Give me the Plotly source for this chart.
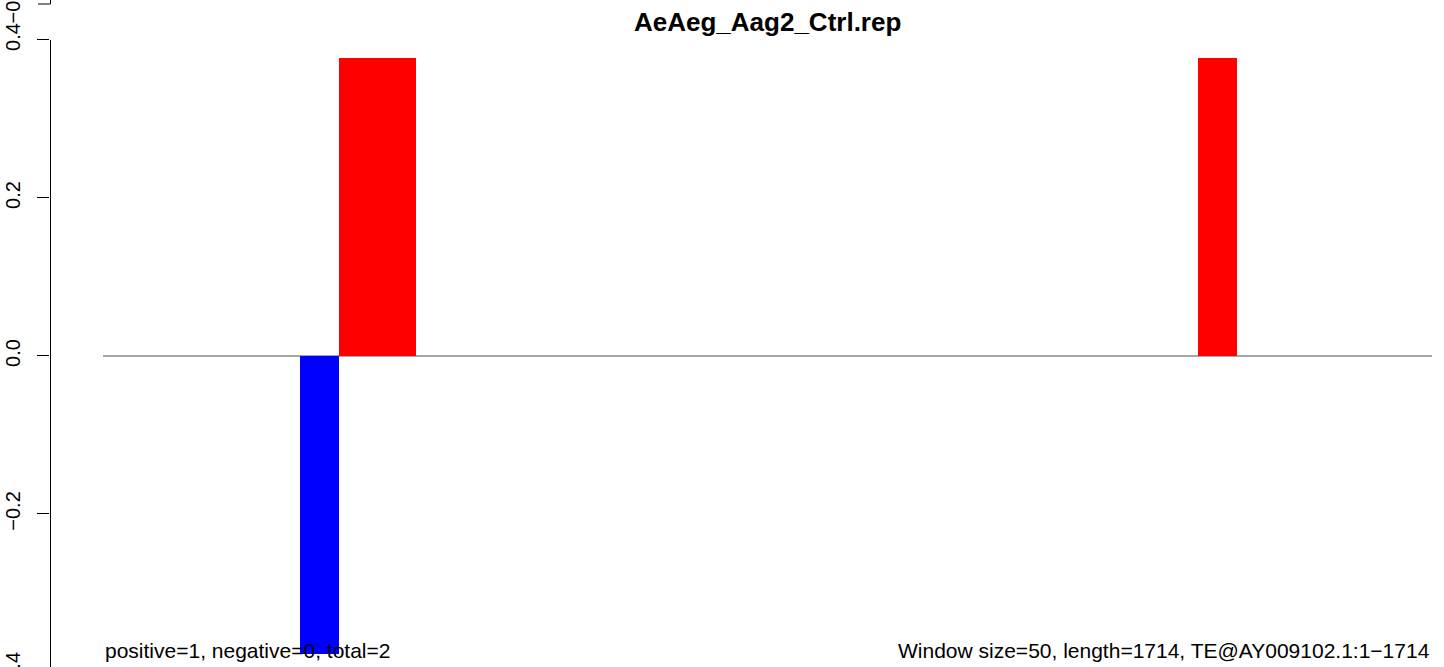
import plotly.graph_objects as go

title = "AeAeg_Aag2_Ctrl.rep"
seq_length = 1714
window = 50

# window centres (nt) and normalised counts
pos_x = [329, 379, 1437]
pos_y = [0.377, 0.377, 0.377]
neg_x = [279]
neg_y = [-0.377]

y_ticks = [-0.4, -0.2, 0.0, 0.2, 0.4]
y_ticktext = ["\u22120.4", "\u22120.2", "0.0", "0.2", "0.4"]

left_note = "positive=1, negative=0, total=2"
right_note = "Window size=50, length=1714, TE@AY009102.1:1\u22121714"

W, H = 1444, 667
y_range = [-0.3937, 0.4506]
x_range = [-(103 - 50) / (1432 - 103) * seq_length, seq_length]


def ypaper(v):
    return (v - y_range[0]) / (y_range[1] - y_range[0])


fig = go.Figure()
fig.add_trace(go.Bar(x=pos_x, y=pos_y, width=window, marker=dict(color="#ff0000", line_width=0)))
fig.add_trace(go.Bar(x=neg_x, y=neg_y, width=window, marker=dict(color="#0000ff", line_width=0)))

font = dict(family="Liberation Sans, Arial, sans-serif", size=20, color="black")
note_font = dict(family=font["family"], size=21, color="black")

fig.update_layout(
    width=W, height=H,
    margin=dict(l=0, r=0, t=0, b=0, autoexpand=False),
    paper_bgcolor="white", plot_bgcolor="white",
    showlegend=False, barmode="overlay", bargap=0,
    font=font,
    xaxis=dict(domain=[50 / W, 1432 / W], range=x_range, visible=False,
               automargin=False),
    yaxis=dict(range=y_range, tickvals=y_ticks, ticktext=y_ticktext,
               ticks="outside", ticklen=12, tickcolor="black", tickwidth=1,
               tickangle=-90, ticklabelstandoff=9, showgrid=False,
               zeroline=False, showline=False, tickfont=font, automargin=False),
)

# zero line across the plot region
fig.add_shape(type="line", xref="x", yref="y", x0=0, x1=seq_length, y0=0, y1=0,
              line=dict(color="#8a8a8a", width=1.5), layer="below")
# y axis line from first to last tick
ax = 50.5 / W
fig.add_shape(type="line", xref="paper", yref="paper", x0=ax, x1=ax,
              y0=ypaper(-0.4), y1=ypaper(0.4), line=dict(color="black", width=1))
# bottom of the panel above
top_tick = 1 - 4 / H
fig.add_shape(type="line", xref="paper", yref="paper", x0=ax, x1=ax,
              y0=top_tick, y1=1.01, line=dict(color="black", width=1))
fig.add_shape(type="line", xref="paper", yref="paper", x0=38 / W, x1=ax,
              y0=top_tick, y1=top_tick, line=dict(color="black", width=1))
fig.add_annotation(text="\u22120.4", xref="paper", yref="paper", x=12.5 / W, y=top_tick,
                   xanchor="center", yanchor="middle",
                   textangle=-90, showarrow=False, font=font)
# cut-off bottom tick label
fig.add_annotation(text="\u22120.4", xref="paper", yref="paper", x=12.5 / W, y=ypaper(-0.4),
                   xanchor="center", yanchor="middle",
                   textangle=-90, showarrow=False, font=font)

fig.add_annotation(text="<b>%s</b>" % title, xref="paper", yref="paper",
                   x=767.5 / W, y=1 - 22 / H, xanchor="center", yanchor="middle",
                   showarrow=False,
                   font=dict(family=font["family"], size=26, color="black"))
fig.add_annotation(text=left_note, xref="paper", yref="paper", x=103 / W, y=1 - 650 / H,
                   xanchor="left", yanchor="middle", showarrow=False, font=note_font)
fig.add_annotation(text=right_note, xref="paper", yref="paper", x=1432 / W, y=1 - 650 / H,
                   xanchor="right", yanchor="middle", showarrow=False, font=note_font)

fig.write_html("out.html", config={"displayModeBar": False},
               post_script="document.body.style.margin='0px';")
